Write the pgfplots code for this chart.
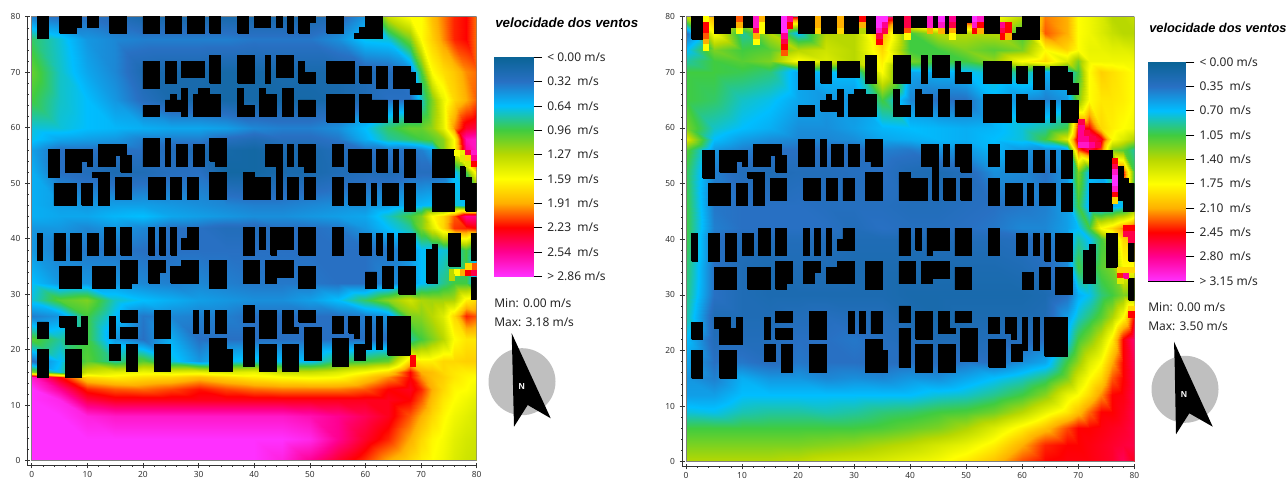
\documentclass[border=0pt]{standalone}
\usepackage{pgfplots}
\usepackage{pgfplotstable}
\pgfplotsset{compat=1.18}
\usepackage{fontspec}
\setmainfont{Noto Sans}
\newfontfamily\ttlfont{Liberation Sans}
\definecolor{tk}{HTML}{333333}
\pgfplotsset{
  colormap={wind}{rgb255=(10,100,150) rgb255=(40,112,195) rgb255=(0,190,255) rgb255=(64,204,64) rgb255=(184,216,0) rgb255=(255,255,0) rgb255=(255,176,0) rgb255=(255,0,0) rgb255=(255,0,144) rgb255=(255,48,255)},
  field/.style={scale only axis,axis x line*=bottom,axis y line*=left,xmax=80,ymax=80,xtick distance=10,ytick distance=10,minor x tick num=4,minor y tick num=4,
    tick align=center,major tick length=4pt,minor tick length=1.5pt,tick style={tk,line width=.4pt},axis line style={tk,line width=.6pt},
    tick label style={font=\fontsize{6.3pt}{7pt}\selectfont,text=tk},/pgf/number format/assume math mode=true,xticklabel style={yshift=1pt},
    point meta min=0,point meta max=9,colormap name=wind},
  cbar/.style={scale only axis,xmin=0,xmax=1,ymin=0,ymax=9,y dir=reverse,xtick=\empty,ytick={0,...,9},ytick pos=right,tick align=outside,major tick length=6.5pt,yticklabel pos=right,
    tick style={black,line width=.5pt},axis line style={black,line width=.6pt},yticklabel style={font=\fontsize{9pt}{10pt}\selectfont,text=black!85,xshift=0.5pt},colormap name=wind,point meta min=0,point meta max=9},
  hot/.style={only marks,scatter,scatter src=explicit,mark=square*,mark size=2.09pt,scatter/use mapped color={fill=mapped color,draw=mapped color},forget plot}
}
% wind speed in steps of the colour scale (left: one step = 0.318 m/s; right: one step = 0.35 m/s)
\pgfplotstableread[row sep=\\]{x y c\\
0 0 9\\5 0 9\\10 0 9\\15 0 9\\20 0 9\\25 0 9\\30 0 9\\35 0 9\\40 0 9\\45 0 8.7\\50 0 8\\55 0 7.3\\60 0 6.7\\64 0 6\\68 0 5.5\\70 0 5.2\\72 0 5\\74 0 4.8\\76 0 4.5\\78 0 4.3\\80 0 4.2\\
0 4 9\\5 4 9\\10 4 9\\15 4 9\\20 4 9\\25 4 9\\30 4 9\\35 4 9\\40 4 9\\45 4 9\\50 4 8.8\\55 4 8\\60 4 7.3\\64 4 6.8\\68 4 6\\70 4 5.5\\72 4 5.1\\74 4 4.9\\76 4 4.6\\78 4 4.4\\80 4 4.3\\
0 8 9\\5 8 9\\10 8 8.7\\15 8 8.5\\20 8 8.5\\25 8 8.5\\30 8 8.5\\35 8 8.5\\40 8 8.5\\45 8 8.5\\50 8 8.3\\55 8 8\\60 8 7.6\\64 8 7.2\\68 8 6.5\\70 8 6\\72 8 5.5\\74 8 5.1\\76 8 4.8\\78 8 4.6\\80 8 4.4\\
0 11 9\\5 11 8.8\\10 11 7.5\\15 11 7.2\\20 11 7.2\\25 11 7.2\\30 11 7.2\\35 11 7.2\\40 11 7.2\\45 11 7.2\\50 11 7.2\\55 11 7.2\\60 11 7.2\\64 11 7.2\\68 11 7\\70 11 6.5\\72 11 5.8\\74 11 5.3\\76 11 5\\78 11 4.8\\80 11 4.6\\
0 13 9\\5 13 8\\10 13 6.8\\15 13 6.5\\20 13 6.4\\25 13 6.6\\30 13 6.9\\35 13 6.6\\40 13 6.4\\45 13 6.3\\50 13 6.3\\55 13 6.3\\60 13 6.5\\64 13 7\\68 13 7.2\\70 13 6.8\\72 13 6\\74 13 5.5\\76 13 5.1\\78 13 5\\80 13 4.8\\
0 15 8.5\\5 15 7\\10 15 5.5\\15 15 5.2\\20 15 5.4\\25 15 5.5\\30 15 5.8\\35 15 5.5\\40 15 5.2\\45 15 5\\50 15 4.9\\55 15 5\\60 15 5.6\\64 15 6.2\\68 15 7\\70 15 6.2\\72 15 5.8\\74 15 5.6\\76 15 5.3\\78 15 5.1\\80 15 5\\
0 16 3.6\\5 16 2.2\\10 16 4.3\\15 16 4.6\\20 16 4.8\\25 16 4.6\\30 16 4.7\\35 16 4.5\\40 16 4.7\\45 16 4.2\\50 16 4.2\\55 16 4.5\\60 16 5\\64 16 5.5\\68 16 7\\70 16 6\\72 16 5.8\\74 16 5.5\\76 16 5.3\\78 16 5.2\\80 16 5.2\\
0 18 1\\5 18 2\\10 18 3.2\\15 18 2.5\\20 18 3.2\\25 18 2.2\\30 18 1.5\\35 18 2\\40 18 2.2\\45 18 2\\50 18 2\\55 18 2.8\\60 18 3\\64 18 3.3\\68 18 5.5\\70 18 5.2\\72 18 5.2\\74 18 5.5\\76 18 5.5\\78 18 5.6\\80 18 5.6\\
0 22 3.2\\5 22 2.5\\10 22 3\\15 22 1.5\\20 22 1\\25 22 1.8\\30 22 1\\35 22 1\\40 22 1\\45 22 1\\50 22 1\\55 22 1\\60 22 1\\64 22 1\\68 22 2.5\\70 22 3\\72 22 3.5\\74 22 4\\76 22 5\\78 22 5.3\\80 22 5.3\\
0 26 1.2\\5 26 1.5\\10 26 3\\15 26 2\\20 26 1.1\\25 26 1.3\\30 26 1.2\\35 26 1.2\\40 26 1\\45 26 1\\50 26 1\\55 26 1\\60 26 1.2\\64 26 1.5\\68 26 3.5\\70 26 3.6\\72 26 4\\74 26 4.5\\76 26 5.5\\78 26 6.8\\80 26 6.5\\
0 29 2.2\\5 29 3.2\\10 29 3.5\\15 29 2.3\\20 29 2\\25 29 1.8\\30 29 1.6\\35 29 1.5\\40 29 1.4\\45 29 1.4\\50 29 1.6\\55 29 2\\60 29 2.8\\64 29 3.6\\68 29 4.3\\70 29 3.9\\72 29 3.8\\74 29 3.8\\76 29 3.9\\78 29 5.2\\80 29 5.5\\
0 32 2\\5 32 1.5\\10 32 1.5\\15 32 1.5\\20 32 1.3\\25 32 1.2\\30 32 1.3\\35 32 1.2\\40 32 1.1\\45 32 1.1\\50 32 1.1\\55 32 1\\60 32 1\\64 32 1.3\\68 32 1.5\\70 32 2\\72 32 2.2\\74 32 2.6\\76 32 3\\78 32 3\\80 32 1.5\\
0 38 1.5\\5 38 1.2\\10 38 1.1\\15 38 1.1\\20 38 1\\25 38 1\\30 38 1\\35 38 1\\40 38 1\\45 38 1\\50 38 1\\55 38 1\\60 38 1\\64 38 1.1\\68 38 1.5\\70 38 2\\72 38 2\\74 38 2.2\\76 38 2.2\\78 38 3\\80 38 2\\
0 42 1.5\\5 42 1.5\\10 42 1.3\\15 42 1.5\\20 42 1.3\\25 42 1\\30 42 1\\35 42 .8\\40 42 .8\\45 42 1\\50 42 1\\55 42 1.1\\60 42 1.5\\64 42 2\\68 42 2.5\\70 42 3.5\\72 42 4.5\\74 42 5.5\\76 42 6.7\\78 42 6.8\\80 42 7\\
0 44 1.8\\5 44 1.7\\10 44 1.7\\15 44 1.9\\20 44 2\\25 44 1.7\\30 44 1.6\\35 44 1.5\\40 44 1.4\\45 44 1.4\\50 44 1.5\\55 44 1.6\\60 44 1.7\\64 44 2.3\\68 44 3\\70 44 3.5\\72 44 5\\74 44 5.5\\76 44 6.5\\78 44 8\\80 44 8\\
0 46 1.8\\5 46 1.6\\10 46 1.5\\15 46 1.6\\20 46 1.6\\25 46 1.5\\30 46 1.4\\35 46 1.3\\40 46 1.2\\45 46 1.2\\50 46 1.3\\55 46 1.4\\60 46 1.4\\64 46 1.6\\68 46 1.8\\70 46 1.9\\72 46 2\\74 46 2\\76 46 2.2\\78 46 2\\80 46 1.5\\
0 52 1.8\\5 52 1\\10 52 .8\\15 52 .6\\20 52 .7\\25 52 .9\\30 52 1\\35 52 .3\\40 52 .3\\45 52 .5\\50 52 .5\\55 52 .7\\60 52 .8\\64 52 .7\\68 52 .9\\70 52 .9\\72 52 .9\\74 52 1\\76 52 2\\78 52 3\\80 52 5.5\\
0 56 1.6\\5 56 1\\10 56 1\\15 56 1\\20 56 1\\25 56 .8\\30 56 .7\\35 56 .4\\40 56 .3\\45 56 .6\\50 56 .5\\55 56 .8\\60 56 1\\64 56 1.1\\68 56 1\\70 56 1.2\\72 56 1.6\\74 56 3.5\\76 56 5\\78 56 8\\80 56 8.5\\
0 58 2.1\\5 58 1.7\\10 58 1.6\\15 58 1.5\\20 58 1.2\\25 58 1.2\\30 58 1.2\\35 58 .9\\40 58 .7\\45 58 .9\\50 58 .9\\55 58 1.1\\60 58 1.8\\64 58 2.5\\68 58 2.8\\70 58 3\\72 58 3.2\\74 58 3.6\\76 58 5\\78 58 8.3\\80 58 8.5\\
0 60 2.2\\5 60 2.2\\10 60 2\\15 60 1.9\\20 60 1.8\\25 60 1.7\\30 60 1.7\\35 60 1.6\\40 60 1.3\\45 60 1.2\\50 60 1.2\\55 60 1.4\\60 60 2\\64 60 2.8\\68 60 3.3\\70 60 3.3\\72 60 3.7\\74 60 4.6\\76 60 6.2\\78 60 7.3\\80 60 7.5\\
0 65 3\\5 65 2.3\\10 65 2\\15 65 1.5\\20 65 .9\\25 65 .5\\30 65 .5\\35 65 .4\\40 65 .4\\45 65 .4\\50 65 .4\\55 65 .5\\60 65 .7\\64 65 1\\68 65 1\\70 65 2.3\\72 65 3.5\\74 65 4.7\\76 65 5.5\\78 65 6\\80 65 6.5\\
0 70 3.3\\5 70 2.3\\10 70 1.7\\15 70 1.3\\20 70 .6\\25 70 .5\\30 70 .5\\35 70 .4\\40 70 .4\\45 70 .5\\50 70 .5\\55 70 .5\\60 70 .7\\64 70 .8\\68 70 1.2\\70 70 3\\72 70 5\\74 70 5.4\\76 70 5.7\\78 70 6.2\\80 70 6.4\\
0 76 2.8\\5 76 2.2\\10 76 1.5\\15 76 1.3\\20 76 1.2\\25 76 1.2\\30 76 1.2\\35 76 1.2\\40 76 1.1\\45 76 1.1\\50 76 1.1\\55 76 1.4\\60 76 2.1\\64 76 2.2\\68 76 3.5\\70 76 5\\72 76 5.6\\74 76 6.2\\76 76 6.8\\78 76 7\\80 76 6.3\\
0 80 1.2\\5 80 1\\10 80 1\\15 80 .8\\20 80 .5\\25 80 .5\\30 80 .5\\35 80 .5\\40 80 .5\\45 80 .5\\50 80 .5\\55 80 .8\\60 80 1.5\\64 80 4.2\\68 80 5\\70 80 5\\72 80 5.8\\74 80 6.3\\76 80 6.8\\78 80 7\\80 80 6.3\\
}\fieldL
\pgfplotstableread[row sep=\\]{x y c\\
0 0 4\\5 0 4\\10 0 4\\15 0 4\\20 0 4.1\\25 0 4.3\\30 0 4.4\\35 0 4.5\\40 0 4.7\\45 0 4.9\\50 0 5.3\\55 0 5.8\\60 0 6.6\\64 0 7\\68 0 7.1\\70 0 7.1\\72 0 7.1\\74 0 7.2\\76 0 7.3\\78 0 7.6\\80 0 7.2\\
0 3 3.5\\5 3 3.5\\10 3 3.5\\15 3 3.5\\20 3 3.5\\25 3 3.6\\30 3 3.7\\35 3 3.9\\40 3 4.1\\45 3 4.4\\50 3 4.7\\55 3 5.2\\60 3 6\\64 3 6.8\\68 3 7\\70 3 7\\72 3 7.1\\74 3 7.2\\76 3 7.3\\78 3 7.4\\80 3 7.5\\
0 6 3\\5 6 3\\10 6 3\\15 6 3\\20 6 3\\25 6 3\\30 6 3\\35 6 3.1\\40 6 3.3\\45 6 3.5\\50 6 3.9\\55 6 4.5\\60 6 5.2\\64 6 5.8\\68 6 6.6\\70 6 7\\72 6 7\\74 6 7.1\\76 6 7.2\\78 6 7.3\\80 6 7.5\\
0 9 2.2\\5 9 2.1\\10 9 2.4\\15 9 2.5\\20 9 2.5\\25 9 2.4\\30 9 2.5\\35 9 2.7\\40 9 2.8\\45 9 3\\50 9 3.1\\55 9 3.4\\60 9 4\\64 9 4.7\\68 9 5.3\\70 9 5.8\\72 9 6.4\\74 9 7\\76 9 7\\78 9 7.2\\80 9 7.5\\
0 12 1.6\\5 12 1.6\\10 12 2\\15 12 2\\20 12 2\\25 12 2\\30 12 2\\35 12 2\\40 12 2\\45 12 2.2\\50 12 2.3\\55 12 2.6\\60 12 3\\64 12 3.6\\68 12 4.7\\70 12 5\\72 12 5.5\\74 12 6.2\\76 12 7\\78 12 7.1\\80 12 7.5\\
0 15 1.5\\5 15 1.2\\10 15 1.8\\15 15 1.5\\20 15 1.5\\25 15 1.3\\30 15 1.4\\35 15 1.3\\40 15 1.5\\45 15 1.4\\50 15 1.7\\55 15 2\\60 15 2.3\\64 15 2.7\\68 15 3.5\\70 15 4.4\\72 15 5\\74 15 5.5\\76 15 6.5\\78 15 7\\80 15 7.5\\
0 18 1.7\\5 18 1\\10 18 1.1\\15 18 .9\\20 18 1.1\\25 18 1\\30 18 1\\35 18 .9\\40 18 1\\45 18 .9\\50 18 1.1\\55 18 1\\60 18 1.4\\64 18 1.7\\68 18 3\\70 18 3.7\\72 18 4.5\\74 18 5\\76 18 6\\78 18 7\\80 18 7.6\\
0 22 2\\5 22 .8\\10 22 .8\\15 22 .8\\20 22 1\\25 22 1\\30 22 1.1\\35 22 .9\\40 22 .8\\45 22 .7\\50 22 .7\\55 22 .8\\60 22 .8\\64 22 1\\68 22 2\\70 22 3\\72 22 3.5\\74 22 4.2\\76 22 5.2\\78 22 7\\80 22 7.8\\
0 26 2.5\\5 26 .7\\10 26 .7\\15 26 .7\\20 26 .8\\25 26 .9\\30 26 .8\\35 26 .8\\40 26 .6\\45 26 .5\\50 26 .6\\55 26 .6\\60 26 .6\\64 26 .7\\68 26 1.6\\70 26 2.3\\72 26 2.7\\74 26 3.2\\76 26 3.9\\78 26 5\\80 26 7\\
0 30 2.7\\5 30 1\\10 30 .7\\15 30 .6\\20 30 .6\\25 30 .6\\30 30 .6\\35 30 .6\\40 30 .5\\45 30 .5\\50 30 .5\\55 30 .5\\60 30 .5\\64 30 .6\\68 30 1\\70 30 1.8\\72 30 2.1\\74 30 2.7\\76 30 3\\78 30 3.5\\80 30 3.5\\
0 35 2.8\\5 35 1\\10 35 .7\\15 35 .6\\20 35 .7\\25 35 .7\\30 35 .6\\35 35 .6\\40 35 .6\\45 35 .6\\50 35 .6\\55 35 .6\\60 35 .7\\64 35 .9\\68 35 1.3\\70 35 3\\72 35 2.5\\74 35 3.2\\76 35 3.5\\78 35 5\\80 35 5\\
0 40 3\\5 40 1\\10 40 .8\\15 40 .8\\20 40 .8\\25 40 .8\\30 40 .7\\35 40 .7\\40 40 .7\\45 40 .8\\50 40 .8\\55 40 .8\\60 40 .9\\64 40 1\\68 40 1.5\\70 40 2.5\\72 40 2\\74 40 3\\76 40 4\\78 40 5.5\\80 40 6\\
0 42 3\\5 42 1.2\\10 42 1\\15 42 1\\20 42 1\\25 42 1\\30 42 .8\\35 42 1\\40 42 .9\\45 42 .9\\50 42 1\\55 42 1.1\\60 42 1.3\\64 42 1.3\\68 42 1.6\\70 42 2\\72 42 3\\74 42 5\\76 42 5.5\\78 42 6.3\\80 42 7\\
0 46 3\\5 46 1.1\\10 46 1\\15 46 1\\20 46 1\\25 46 .9\\30 46 .9\\35 46 .9\\40 46 .8\\45 46 .8\\50 46 .9\\55 46 1\\60 46 1.1\\64 46 1.2\\68 46 1.6\\70 46 3\\72 46 1.8\\74 46 1.6\\76 46 1.7\\78 46 2\\80 46 3\\
0 52 2.9\\5 52 1.2\\10 52 .8\\15 52 .7\\20 52 .8\\25 52 .8\\30 52 .9\\35 52 1\\40 52 .7\\45 52 .6\\50 52 .8\\55 52 1.4\\60 52 1.3\\64 52 1\\68 52 1.5\\70 52 3.5\\72 52 2\\74 52 1.8\\76 52 3\\78 52 7\\80 52 3\\
0 56 3.2\\5 56 1.5\\10 56 1.2\\15 56 1\\20 56 1\\25 56 1\\30 56 .9\\35 56 1.2\\40 56 1.1\\45 56 1.4\\50 56 1.5\\55 56 1.9\\60 56 1.5\\64 56 1.3\\68 56 1.5\\70 56 6.5\\72 56 7.5\\74 56 6.5\\76 56 3.5\\78 56 3.2\\80 56 2.5\\
0 58 4.5\\5 58 2\\10 58 1.6\\15 58 1.4\\20 58 1.3\\25 58 1.3\\30 58 1.4\\35 58 1.7\\40 58 1.8\\45 58 1.9\\50 58 1.8\\55 58 2\\60 58 2.2\\64 58 3\\68 58 4.5\\70 58 7.5\\72 58 8\\74 58 7.2\\76 58 5\\78 58 4.5\\80 58 4\\
0 60 3.5\\5 60 2.3\\10 60 2\\15 60 1.8\\20 60 1.4\\25 60 1.4\\30 60 1.6\\35 60 1.9\\40 60 2\\45 60 1.9\\50 60 1.8\\55 60 1.9\\60 60 2.2\\64 60 2.5\\68 60 3\\70 60 7\\72 60 7\\74 60 5.5\\76 60 5.2\\78 60 5\\80 60 4.8\\
0 65 3\\5 65 2.8\\10 65 2.3\\15 65 2.1\\20 65 1.7\\25 65 1.5\\30 65 1.5\\35 65 3\\40 65 1.3\\45 65 1\\50 65 1\\55 65 1.9\\60 65 1.4\\64 65 1.2\\68 65 1.5\\70 65 3.5\\72 65 5\\74 65 5.3\\76 65 5.3\\78 65 5.2\\80 65 5\\
0 70 3\\5 70 3\\10 70 2.9\\15 70 2.7\\20 70 1.7\\25 70 2\\30 70 2\\35 70 5\\40 70 1.7\\45 70 1.8\\50 70 2\\55 70 2.3\\60 70 2.6\\64 70 1.8\\68 70 2\\70 70 3\\72 70 5\\74 70 5.6\\76 70 5.4\\78 70 5.2\\80 70 5\\
0 72 2.5\\5 72 3\\10 72 3.2\\15 72 3.5\\20 72 5\\25 72 4.5\\30 72 4\\35 72 5.2\\40 72 3.5\\45 72 3\\50 72 3\\55 72 3.7\\60 72 5\\64 72 5.5\\68 72 4.5\\70 72 3.5\\72 72 4.8\\74 72 4.8\\76 72 4.8\\78 72 4.8\\80 72 4.8\\
0 74 2\\5 74 3.5\\10 74 3\\15 74 3.2\\20 74 4\\25 74 4.3\\30 74 4\\35 74 5.5\\40 74 3\\45 74 3\\50 74 3.5\\55 74 3.2\\60 74 3.5\\64 74 5\\68 74 5.5\\70 74 5\\72 74 4.7\\74 74 4.7\\76 74 4.6\\78 74 4.6\\80 74 4.5\\
0 77 1\\5 77 5\\10 77 2.5\\15 77 4\\20 77 2\\25 77 4\\30 77 4\\35 77 6\\40 77 3\\45 77 4\\50 77 4\\55 77 4\\60 77 3\\64 77 6.5\\68 77 6\\70 77 5\\72 77 4.8\\74 77 4.5\\76 77 4.2\\78 77 4\\80 77 4\\
0 80 4\\5 80 6\\10 80 5\\15 80 7\\20 80 7\\25 80 6\\30 80 6\\35 80 8\\40 80 7\\45 80 8\\50 80 8\\55 80 5\\60 80 4\\64 80 6.3\\68 80 6\\70 80 5\\72 80 4.8\\74 80 4.5\\76 80 4\\78 80 4\\80 80 4.2\\
}\fieldR
\pgfplotstableread[row sep=\\]{x y c\\
75.5 34 4\\76.5 34 5\\77.5 34 6\\78.5 34 7\\79.5 34 7.5\\79.5 35 6.5\\78.5 35 5.5\\75.5 33 4\\76.5 55.5 5\\77.5 55.5 4.7\\78.5 55.5 7.5\\79.5 55.5 8.5\\77.5 54.5 4.5\\78.5 54.5 5.5\\79.5 54.5 8\\78.5 53.5 4.5\\79.5 53.5 7\\68.5 18.5 7\\68.5 17.5 7\\
}\hotL
\pgfplotstableread[row sep=\\]{x y c\\
3.5 79.5 5\\3.5 78.5 7\\3.5 77.5 7\\3.5 76.5 6.5\\3.5 75.5 6\\3.5 74.5 5\\9.5 79.5 6.5\\9.5 78.5 6\\9.5 77.5 5\\12.5 79.5 8.5\\12.5 78.5 8.5\\12.5 77.5 7.5\\12.5 76.5 6\\12.5 75.5 5\\13.5 79.5 6\\13.5 78.5 5\\13.5 77.5 5\\17.5 79.5 9\\17.5 78.5 9\\17.5 77.5 9\\17.5 76.5 8\\17.5 75.5 7.5\\17.5 74.5 7\\17.5 73.5 6.5\\18.5 79.5 8\\18.5 78.5 7\\23.5 79.5 6\\23.5 78.5 6\\23.5 77.5 5.5\\27.5 79.5 6\\27.5 78.5 6\\27.5 77.5 5.5\\31.5 79.5 7\\31.5 78.5 6\\31.5 77.5 4\\34.5 79.5 9\\34.5 78.5 9\\34.5 77.5 8.5\\34.5 76.5 7.5\\34.5 75.5 7\\35.5 79.5 9\\35.5 78.5 8\\35.5 77.5 7.5\\39.5 79.5 7.5\\39.5 78.5 7.5\\39.5 77.5 6.5\\39.5 76.5 5\\43.5 79.5 8.5\\43.5 78.5 8.5\\43.5 77.5 6\\45.5 79.5 9\\45.5 78.5 8.5\\45.5 77.5 6\\47.5 79.5 8\\47.5 78.5 7.5\\47.5 77.5 6\\47.5 76.5 5\\51.5 79.5 9\\51.5 78.5 8.5\\51.5 77.5 7\\52.5 79.5 8.5\\52.5 78.5 7\\52.5 77.5 6\\56.5 78.5 8\\56.5 77.5 7.5\\56.5 76.5 7\\57.5 78.5 7\\57.5 77.5 7\\57.5 76.5 6\\
70.5 61 7.5\\70.5 60 8\\70.5 59 8\\70.5 58 8\\70.5 57 8.5\\71.5 59 7.5\\71.5 58 8\\71.5 57 8.5\\72.5 58 7.5\\72.5 57 8\\73.5 57 7.5\\76.5 54 7\\76.5 53 7.5\\76.5 52 8.5\\76.5 51 9\\76.5 50 9\\76.5 49 8.5\\76.5 48 7\\76.5 47 5.5\\78.5 42 7\\79.5 42 7\\78.5 41 7.5\\79.5 41 7.5\\79.5 40 7.5\\77.5 33.5 6.8\\78.5 33.5 8\\79.5 34.5 5.5\\78.5 34.5 5.5\\77.5 34.5 5.5\\77.5 32.5 4.5\\79.5 27.5 5.5\\79.5 26.5 7\\
}\hotR
\newcommand{\bb}[4]{\addplot[fill=black,draw=black,line width=.6pt,forget plot] coordinates {(#1,#2)(#3,#2)(#3,#4)(#1,#4)(#1,#2)};}
\newcommand{\allbuildings}{%
\bb{1}{76}{3}{80}\bb{5}{77}{8}{80}\bb{8}{78}{9}{80}\bb{10}{78}{12}{80}\bb{14}{77}{17}{80}\bb{20}{77}{23}{80}\bb{24}{77}{27}{80}\bb{28}{77}{31}{80}\bb{32}{77}{34}{80}\bb{37}{77}{39}{80}\bb{40}{78}{43}{80}\bb{44}{78}{45}{80}\bb{46}{77}{47}{80}\bb{48}{77}{50}{80}\bb{50}{79}{51}{80}\bb{53}{77}{56}{80}\bb{60}{76}{63}{80}\bb{58}{76}{60}{77}\bb{59}{76}{60}{78}%
\bb{20}{67}{23}{72}\bb{24}{68}{26}{72}\bb{27}{69}{31}{72}\bb{32}{68}{34}{73}\bb{37}{68}{40}{73}\bb{42}{68}{43}{73}\bb{44}{69}{47}{73}\bb{48}{68}{49}{72}\bb{49}{68}{51}{70}\bb{53}{68}{58}{72}\bb{59}{68}{61}{71}\bb{62}{67}{64}{71}\bb{65}{67}{68}{71}\bb{68}{66}{70}{68}\bb{68}{68}{69}{70}%
\bb{20}{62}{23}{64}\bb{24}{63}{27}{65}\bb{25}{63}{26}{66}\bb{27}{62}{28}{67}\bb{29}{62}{34}{66}\bb{30}{66}{32}{67}\bb{37}{62}{38}{67}\bb{38}{62}{40}{64}\bb{41}{62}{44}{66}\bb{41}{66}{42}{67}\bb{45}{62}{47}{67}\bb{48}{62}{51}{65}\bb{53}{61}{58}{66}\bb{59}{61}{61}{66}\bb{61}{61}{64}{65}\bb{65}{61}{66}{65}\bb{67}{61}{70}{65}%
\bb{3}{51}{5}{56}\bb{6}{52}{9}{56}\bb{9}{54}{11}{56}\bb{10}{53}{11}{54}\bb{12}{53}{15}{57}\bb{15}{55}{17}{57}\bb{16}{52}{18}{55}\bb{20}{53}{23}{58}\bb{24}{53}{25}{58}\bb{26}{53}{28}{57}\bb{29}{53}{31}{57}\bb{32}{54}{35}{58}\bb{33}{53}{35}{54}\bb{42}{53}{45}{57}\bb{46}{53}{47}{57}\bb{48}{53}{51}{57}\bb{49}{52}{51}{53}\bb{54}{53}{56}{57}\bb{57}{52}{61}{56}\bb{62}{52}{64}{56}\bb{65}{52}{66}{56}\bb{67}{51}{69}{56}\bb{72}{51}{76}{56}%
\bb{4}{46}{8}{50}\bb{9}{46}{11}{50}\bb{12}{46}{14}{52}\bb{11}{51}{12}{52}\bb{15}{47}{18}{51}\bb{21}{47}{24}{51}\bb{25}{47}{27}{51}\bb{28}{47}{30}{51}\bb{32}{47}{35}{52}\bb{38}{47}{43}{51}\bb{38}{51}{40}{52}\bb{44}{47}{45}{53}\bb{46}{47}{48}{51}\bb{49}{47}{51}{51}\bb{54}{46}{56}{51}\bb{57}{46}{60}{50}\bb{61}{46}{62}{50}\bb{63}{46}{66}{50}\bb{67}{45}{69}{50}\bb{72}{45}{76}{50}\bb{77}{47}{78}{53}\bb{78}{45}{80}{50}\bb{78}{48}{79}{51}%
\bb{1}{36}{2}{41}\bb{4}{36}{6}{41}\bb{7}{36}{9}{41}\bb{10}{37}{12}{41}\bb{13}{37}{15}{42}\bb{16}{37}{18}{42}\bb{21}{37}{22}{42}\bb{23}{37}{24}{42}\bb{25}{37}{26}{42}\bb{28}{38}{30}{42}\bb{27}{38}{28}{40}\bb{38}{37}{40}{42}\bb{41}{38}{42}{42}\bb{43}{37}{44}{42}\bb{44}{38}{47}{42}\bb{48}{37}{51}{42}\bb{54}{37}{56}{42}\bb{59}{37}{61}{41}\bb{62}{37}{63}{41}\bb{64}{36}{65}{41}\bb{66}{36}{69}{41}\bb{71}{32}{73}{38}\bb{72}{38}{73}{39}\bb{75}{35}{77}{41}\bb{79}{36}{80}{41}\bb{79}{29}{80}{33}%
\bb{5}{31}{9}{35}\bb{11}{31}{15}{35}\bb{16}{32}{19}{36}\bb{16}{31}{18}{32}\bb{21}{34}{24}{36}\bb{21}{32}{23}{34}\bb{25}{32}{30}{35}\bb{27}{35}{30}{36}\bb{32}{31}{35}{36}\bb{38}{32}{41}{36}\bb{42}{33}{47}{36}\bb{42}{32}{44}{33}\bb{48}{31}{51}{35}\bb{60}{31}{62}{34}\bb{63}{31}{65}{35}\bb{66}{30}{69}{35}%
\bb{1}{22}{3}{25}\bb{1}{15}{3}{20}\bb{5}{24}{8}{26}\bb{6}{21}{10}{24}\bb{9}{24}{10}{26}\bb{6}{15}{9}{20}\bb{14}{22}{15}{26}\bb{16}{25}{19}{27}\bb{16}{22}{19}{24}\bb{14}{18}{16}{21}\bb{17}{16}{19}{21}\bb{22}{22}{25}{27}\bb{22}{16}{25}{21}\bb{29}{23}{30}{27}\bb{31}{23}{32}{27}\bb{33}{23}{35}{27}\bb{32}{16}{35}{22}\bb{35}{16}{36}{20}\bb{38}{25}{40}{28}\bb{38}{17}{40}{24}\bb{41}{22}{44}{27}\bb{41}{16}{44}{21}\bb{45}{23}{47}{27}\bb{47}{23}{48}{24}\bb{45}{16}{48}{21}\bb{48}{25}{51}{27}\bb{49}{18}{52}{24}\bb{54}{23}{56}{26}\bb{54}{17}{57}{22}\bb{57}{23}{59}{26}\bb{58}{22}{59}{23}\bb{58}{18}{60}{21}\bb{60}{20}{61}{26}\bb{62}{20}{63}{26}\bb{64}{19}{68}{26}%
}
\begin{document}
\begin{tikzpicture}
\useasboundingbox (0,0) rectangle (966pt,360.75pt);
\begin{axis}[field,at={(20.775pt,11.475pt)},anchor=south west,width=336.75pt,height=336.75pt,xmin=-0.72,ymin=-0.9]
\addplot[surf,shader=interp,mesh/cols=21,point meta=explicit] table[meta=c] {\fieldL};
\addplot[hot] table[meta=c] {\hotL};
\addplot[gray,line width=.4pt,forget plot] coordinates {(0,0)(80,0)(80,80)(0,80)(0,0)};
\allbuildings
\end{axis}
\begin{axis}[field,at={(511.725pt,10.725pt)},anchor=south west,width=339pt,height=337.5pt,xmin=-0.66,ymin=-0.9]
\addplot[surf,shader=interp,mesh/cols=21,point meta=explicit] table[meta=c] {\fieldR};
\addplot[hot] table[meta=c] {\hotR};
\addplot[gray,line width=.4pt,forget plot] coordinates {(0,0)(80,0)(80,80)(0,80)(0,0)};
\allbuildings
\end{axis}
\begin{axis}[cbar,at={(370.7pt,153.5pt)},anchor=south west,width=29.3pt,height=164.25pt,yticklabels={< 0.00 m/s,0.32~~m/s,0.64~~m/s,0.96~~m/s,1.27~~m/s,1.59~~m/s,1.91~~m/s,2.23~~m/s,2.54~~m/s,> 2.86 m/s}]
\addplot[surf,shader=interp,mesh/cols=2,point meta=explicit] table[meta index=2,row sep=\\] {x y c\\0 0 0\\1 0 0\\0 9 9\\1 9 9\\};
\end{axis}
\begin{axis}[cbar,at={(861.2pt,150pt)},anchor=south west,width=28pt,height=164.25pt,yticklabels={< 0.00 m/s,0.35~~m/s,0.70~~m/s,1.05~~m/s,1.40~~m/s,1.75~~m/s,2.10~~m/s,2.45~~m/s,2.80~~m/s,> 3.15 m/s}]
\addplot[surf,shader=interp,mesh/cols=2,point meta=explicit] table[meta index=2,row sep=\\] {x y c\\0 0 0\\1 0 0\\0 9 9\\1 9 9\\};
\end{axis}
\begin{scope}[x=0.75pt,y=-0.75pt,yshift=360.75pt]
\node[anchor=west,inner sep=0pt,font=\ttlfont\fontsize{10pt}{11pt}\selectfont\bfseries\itshape] at (495,23) {velocidade dos ventos};
\node[anchor=west,inner sep=0pt,font=\ttlfont\fontsize{9.6pt}{11pt}\selectfont\bfseries\itshape] at (1149,28) {velocidade dos ventos};
\node[anchor=west,inner sep=0pt,font=\fontsize{9pt}{10pt}\selectfont,text=black!85] at (494,303) {Min: 0.00 m/s};
\node[anchor=west,inner sep=0pt,font=\fontsize{9pt}{10pt}\selectfont,text=black!85] at (494,322) {Max: 3.18 m/s};
\node[anchor=west,inner sep=0pt,font=\fontsize{9pt}{10pt}\selectfont,text=black!85] at (1148,307) {Min: 0.00 m/s};
\node[anchor=west,inner sep=0pt,font=\fontsize{9pt}{10pt}\selectfont,text=black!85] at (1148,326) {Max: 3.50 m/s};
\fill[black!25] (522,381.7) circle [radius=33.5];
\fill[black] (511.7,333.3)--(550.7,418.3)--(527.7,405)--(514,426.7)--(512.3,356.7)--cycle;
\node[font=\ttlfont\fontsize{6.5pt}{7pt}\selectfont\bfseries,text=white] at (521.7,386.7) {N};
\fill[black!25] (1185,389.3) circle [radius=33.5];
\fill[black] (1174,341.7)--(1212.7,426.7)--(1189.3,413.3)--(1176,434.3)--(1174.7,365)--cycle;
\node[font=\ttlfont\fontsize{6.5pt}{7pt}\selectfont\bfseries,text=white] at (1184,395) {N};
\end{scope}
\end{tikzpicture}
\end{document}
